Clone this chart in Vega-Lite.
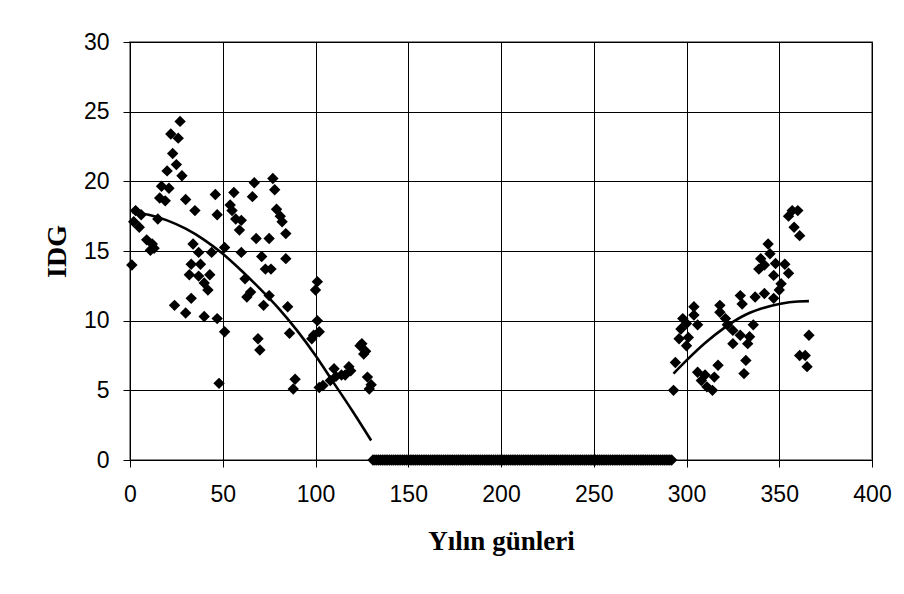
{
  "$schema": "https://vega.github.io/schema/vega-lite/v6.json",
  "width": 742,
  "height": 418,
  "autosize": {"type": "none"},
  "padding": {"left": 130, "top": 42, "right": 32, "bottom": 134},
  "background": "white",
  "datasets": {
    "idg": [
      {"d":1,"v":14.0},{"d":2,"v":17.1},{"d":3,"v":17.9},{"d":5,"v":16.7},{"d":6,"v":17.6},
      {"d":9,"v":15.8},{"d":11,"v":15.05},{"d":12,"v":15.5},{"d":13,"v":15.2},{"d":15,"v":17.3},
      {"d":16,"v":18.8},{"d":17,"v":19.65},{"d":19,"v":18.6},{"d":20,"v":20.75},{"d":21,"v":19.5},
      {"d":22,"v":23.4},{"d":23,"v":22.0},{"d":24,"v":11.1},{"d":25,"v":21.2},{"d":26,"v":23.1},
      {"d":27,"v":24.3},{"d":28,"v":20.4},{"d":30,"v":18.7},{"d":30,"v":10.55},{"d":32,"v":13.3},
      {"d":33,"v":14.05},{"d":33,"v":11.6},{"d":34,"v":15.5},{"d":35,"v":17.9},{"d":37,"v":14.9},
      {"d":37,"v":13.2},{"d":38,"v":14.05},{"d":40,"v":12.7},{"d":40,"v":10.3},{"d":42,"v":12.2},
      {"d":43,"v":13.3},{"d":44,"v":14.9},{"d":46,"v":19.05},{"d":47,"v":17.6},{"d":47,"v":10.15},
      {"d":48,"v":5.5},{"d":51,"v":15.25},{"d":51,"v":9.2},{"d":54,"v":18.3},{"d":55,"v":17.9},
      {"d":56,"v":19.2},{"d":57,"v":17.3},{"d":59,"v":16.5},{"d":60,"v":17.2},{"d":60,"v":14.9},
      {"d":62,"v":13.0},{"d":63,"v":11.7},{"d":65,"v":12.05},{"d":66,"v":18.9},{"d":67,"v":19.9},
      {"d":68,"v":15.9},{"d":69,"v":8.7},{"d":70,"v":7.9},{"d":71,"v":14.6},{"d":72,"v":11.1},
      {"d":73,"v":13.7},{"d":75,"v":15.9},{"d":75,"v":11.8},{"d":76,"v":13.7},{"d":77,"v":20.2},
      {"d":78,"v":19.4},{"d":79,"v":18.0},{"d":81,"v":17.5},{"d":82,"v":17.1},{"d":84,"v":16.25},
      {"d":84,"v":14.45},{"d":85,"v":11.0},{"d":86,"v":9.1},{"d":88,"v":5.1},{"d":89,"v":5.8},
      {"d":98,"v":8.7},{"d":99,"v":8.95},{"d":100,"v":12.2},{"d":101,"v":12.8},{"d":101,"v":10.0},
      {"d":102,"v":9.2},{"d":102,"v":5.2},{"d":104,"v":5.35},{"d":108,"v":5.7},{"d":110,"v":6.55},
      {"d":111,"v":6.0},{"d":114,"v":6.1},{"d":116,"v":6.1},{"d":118,"v":6.7},{"d":119,"v":6.4},
      {"d":124,"v":8.2},{"d":125,"v":8.35},{"d":126,"v":7.6},{"d":127,"v":7.8},{"d":128,"v":5.95},
      {"d":129,"v":5.1},{"d":130,"v":5.4},
      {"d":131,"v":0},{"d":132,"v":0},{"d":133,"v":0},{"d":134,"v":0},{"d":135,"v":0},{"d":136,"v":0},
      {"d":137,"v":0},{"d":138,"v":0},{"d":139,"v":0},{"d":140,"v":0},{"d":141,"v":0},{"d":142,"v":0},
      {"d":143,"v":0},{"d":144,"v":0},{"d":145,"v":0},{"d":146,"v":0},{"d":147,"v":0},{"d":148,"v":0},
      {"d":149,"v":0},{"d":150,"v":0},{"d":151,"v":0},{"d":152,"v":0},{"d":153,"v":0},{"d":154,"v":0},
      {"d":155,"v":0},{"d":156,"v":0},{"d":157,"v":0},{"d":158,"v":0},{"d":159,"v":0},{"d":160,"v":0},
      {"d":161,"v":0},{"d":162,"v":0},{"d":163,"v":0},{"d":164,"v":0},{"d":165,"v":0},{"d":166,"v":0},
      {"d":167,"v":0},{"d":168,"v":0},{"d":169,"v":0},{"d":170,"v":0},{"d":171,"v":0},{"d":172,"v":0},
      {"d":173,"v":0},{"d":174,"v":0},{"d":175,"v":0},{"d":176,"v":0},{"d":177,"v":0},{"d":178,"v":0},
      {"d":179,"v":0},{"d":180,"v":0},{"d":181,"v":0},{"d":182,"v":0},{"d":183,"v":0},{"d":184,"v":0},
      {"d":185,"v":0},{"d":186,"v":0},{"d":187,"v":0},{"d":188,"v":0},{"d":189,"v":0},{"d":190,"v":0},
      {"d":191,"v":0},{"d":192,"v":0},{"d":193,"v":0},{"d":194,"v":0},{"d":195,"v":0},{"d":196,"v":0},
      {"d":197,"v":0},{"d":198,"v":0},{"d":199,"v":0},{"d":200,"v":0},{"d":201,"v":0},{"d":202,"v":0},
      {"d":203,"v":0},{"d":204,"v":0},{"d":205,"v":0},{"d":206,"v":0},{"d":207,"v":0},{"d":208,"v":0},
      {"d":209,"v":0},{"d":210,"v":0},{"d":211,"v":0},{"d":212,"v":0},{"d":213,"v":0},{"d":214,"v":0},
      {"d":215,"v":0},{"d":216,"v":0},{"d":217,"v":0},{"d":218,"v":0},{"d":219,"v":0},{"d":220,"v":0},
      {"d":221,"v":0},{"d":222,"v":0},{"d":223,"v":0},{"d":224,"v":0},{"d":225,"v":0},{"d":226,"v":0},
      {"d":227,"v":0},{"d":228,"v":0},{"d":229,"v":0},{"d":230,"v":0},{"d":231,"v":0},{"d":232,"v":0},
      {"d":233,"v":0},{"d":234,"v":0},{"d":235,"v":0},{"d":236,"v":0},{"d":237,"v":0},{"d":238,"v":0},
      {"d":239,"v":0},{"d":240,"v":0},{"d":241,"v":0},{"d":242,"v":0},{"d":243,"v":0},{"d":244,"v":0},
      {"d":245,"v":0},{"d":246,"v":0},{"d":247,"v":0},{"d":248,"v":0},{"d":249,"v":0},{"d":250,"v":0},
      {"d":251,"v":0},{"d":252,"v":0},{"d":253,"v":0},{"d":254,"v":0},{"d":255,"v":0},{"d":256,"v":0},
      {"d":257,"v":0},{"d":258,"v":0},{"d":259,"v":0},{"d":260,"v":0},{"d":261,"v":0},{"d":262,"v":0},
      {"d":263,"v":0},{"d":264,"v":0},{"d":265,"v":0},{"d":266,"v":0},{"d":267,"v":0},{"d":268,"v":0},
      {"d":269,"v":0},{"d":270,"v":0},{"d":271,"v":0},{"d":272,"v":0},{"d":273,"v":0},{"d":274,"v":0},
      {"d":275,"v":0},{"d":276,"v":0},{"d":277,"v":0},{"d":278,"v":0},{"d":279,"v":0},{"d":280,"v":0},
      {"d":281,"v":0},{"d":282,"v":0},{"d":283,"v":0},{"d":284,"v":0},{"d":285,"v":0},{"d":286,"v":0},
      {"d":287,"v":0},{"d":288,"v":0},{"d":289,"v":0},{"d":290,"v":0},{"d":291,"v":0},{"d":292,"v":0},
      {"d":293,"v":5.0},{"d":294,"v":7.0},{"d":296,"v":8.7},{"d":297,"v":9.4},{"d":298,"v":10.15},
      {"d":300,"v":9.8},{"d":300,"v":8.2},{"d":301,"v":8.8},{"d":304,"v":11.0},{"d":304,"v":10.4},
      {"d":306,"v":9.7},{"d":306,"v":6.3},{"d":308,"v":5.7},{"d":310,"v":6.1},{"d":311,"v":5.25},
      {"d":314,"v":5.0},{"d":315,"v":5.95},{"d":317,"v":6.8},{"d":318,"v":11.1},{"d":318,"v":10.6},
      {"d":321,"v":10.15},{"d":322,"v":9.7},{"d":325,"v":9.3},{"d":325,"v":8.35},{"d":329,"v":8.95},
      {"d":329,"v":11.8},{"d":330,"v":11.2},{"d":331,"v":6.2},{"d":332,"v":7.15},{"d":333,"v":8.35},
      {"d":334,"v":8.85},{"d":336,"v":9.7},{"d":337,"v":11.7},{"d":339,"v":13.7},{"d":340,"v":14.45},
      {"d":342,"v":14.0},{"d":342,"v":11.95},{"d":344,"v":15.5},{"d":345,"v":14.8},{"d":347,"v":13.25},
      {"d":347,"v":11.6},{"d":348,"v":14.1},{"d":350,"v":12.2},{"d":351,"v":12.65},{"d":353,"v":14.05},
      {"d":355,"v":13.4},{"d":355,"v":17.5},{"d":357,"v":17.9},{"d":358,"v":16.7},{"d":360,"v":17.9},
      {"d":361,"v":16.1},{"d":361,"v":7.5},{"d":364,"v":7.5},{"d":365,"v":6.7},{"d":366,"v":8.95}
    ],
    "trend": [
      {"seg":"spring","d":1,"v":17.8},{"seg":"spring","d":10,"v":17.6},{"seg":"spring","d":20,"v":17.2},
      {"seg":"spring","d":30,"v":16.6},{"seg":"spring","d":40,"v":15.8},{"seg":"spring","d":50,"v":14.8},
      {"seg":"spring","d":60,"v":13.6},{"seg":"spring","d":70,"v":12.3},{"seg":"spring","d":80,"v":10.9},
      {"seg":"spring","d":90,"v":9.3},{"seg":"spring","d":100,"v":7.5},{"seg":"spring","d":110,"v":5.5},
      {"seg":"spring","d":120,"v":3.5},{"seg":"spring","d":130,"v":1.4},
      {"seg":"autumn","d":293,"v":6.2},{"seg":"autumn","d":300,"v":7.15},{"seg":"autumn","d":310,"v":8.4},
      {"seg":"autumn","d":320,"v":9.45},{"seg":"autumn","d":330,"v":10.3},{"seg":"autumn","d":340,"v":10.85},
      {"seg":"autumn","d":350,"v":11.2},{"seg":"autumn","d":360,"v":11.38},{"seg":"autumn","d":366,"v":11.4}
    ]
  },
  "encoding": {
    "x": {
      "field": "d",
      "type": "quantitative",
      "scale": {"domain": [0, 400], "nice": false, "zero": false},
      "axis": {
        "title": "Yılın günleri",
        "values": [0, 50, 100, 150, 200, 250, 300, 350, 400],
        "labelFlush": false,
        "labelPadding": 16,
        "titlePadding": 22,
        "titleFontSize": 27
      }
    },
    "y": {
      "field": "v",
      "type": "quantitative",
      "scale": {"domain": [0, 30], "nice": false},
      "axis": {
        "title": "IDG",
        "values": [0, 5, 10, 15, 20, 25, 30],
        "labelFlush": false,
        "labelPadding": 14,
        "titlePadding": 12,
        "titleFontSize": 28
      }
    }
  },
  "layer": [
    {
      "data": {"name": "idg"},
      "mark": {"type": "point", "shape": "diamond", "filled": true, "size": 130, "color": "#000", "opacity": 1, "strokeWidth": 0}
    },
    {
      "data": {"name": "trend"},
      "mark": {"type": "line", "color": "#000", "strokeWidth": 2.6, "interpolate": "monotone"},
      "encoding": {"detail": {"field": "seg"}}
    }
  ],
  "config": {
    "view": {"stroke": "#8a8a8a", "strokeWidth": 2},
    "axis": {
      "domainColor": "#000",
      "domainWidth": 1,
      "tickColor": "#000",
      "tickSize": 7,
      "grid": true,
      "gridColor": "#000",
      "gridWidth": 1,
      "gridOpacity": 1,
      "labelFont": "Liberation Sans",
      "labelFontSize": 23,
      "labelColor": "#000",
      "titleFont": "Liberation Serif",
      "titleFontWeight": "bold",
      "titleFontSize": 26,
      "titleColor": "#000"
    }
  }
}
